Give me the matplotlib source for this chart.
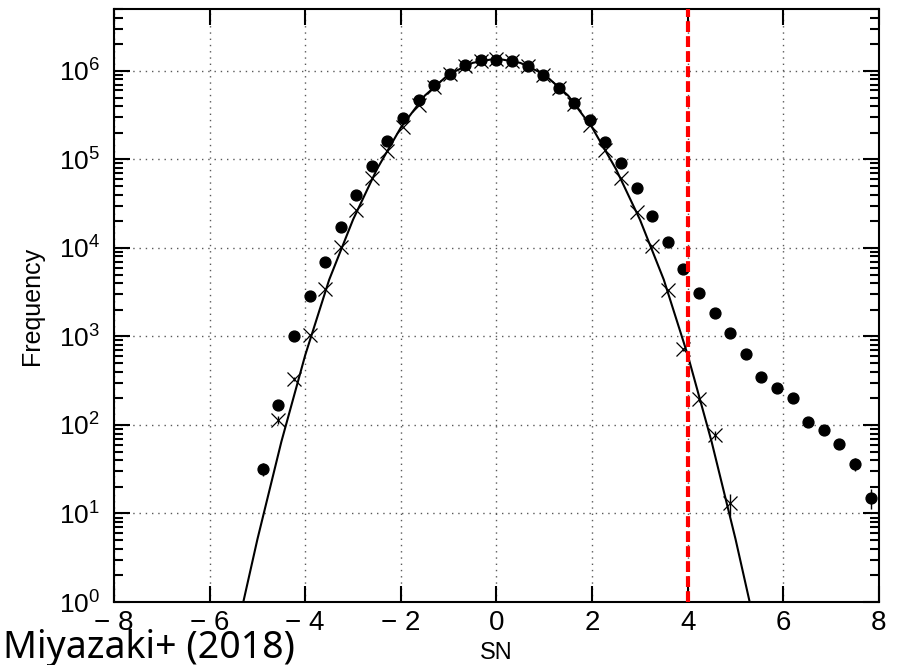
import numpy as np
import matplotlib.pyplot as plt

plt.rcParams["font.family"] = ["Liberation Sans", "DejaVu Sans"]
plt.rcParams["mathtext.fontset"] = "custom"
plt.rcParams["mathtext.rm"] = "Liberation Sans"
plt.rcParams["mathtext.it"] = "Liberation Sans:italic"
plt.rcParams["mathtext.bf"] = "Liberation Sans:bold"

# pixel histogram of the SN map (filled circles)
obs_sn = [-4.89, -4.57, -4.24, -3.91, -3.59, -3.26, -2.93, -2.61, -2.28, -1.96,
          -1.63, -1.30, -0.98, -0.65, -0.33, 0.00, 0.33, 0.65, 0.98, 1.30,
          1.63, 1.96, 2.28, 2.61, 2.93, 3.26, 3.59, 3.91, 4.24, 4.57,
          4.89, 5.22, 5.54, 5.87, 6.20, 6.52, 6.85, 7.17, 7.50, 7.83]
obs_counts = [32, 168, 1000, 2870, 7000, 17400, 39600, 84700, 162000, 290000,
              470000, 690000, 925000, 1150000, 1310000, 1340000, 1290000, 1120000, 890000, 645000,
              437000, 275000, 159000, 91000, 47000, 22900, 11600, 5840, 3120, 1860,
              1100, 628, 352, 259, 203, 107, 87, 61, 36, 15]

# histogram of the inverted (noise) map (crosses)
noise_sn = [-4.57, -4.24, -3.91, -3.59, -3.26, -2.93, -2.61, -2.28, -1.96,
            -1.63, -1.30, -0.98, -0.65, -0.33, 0.00, 0.33, 0.65, 0.98, 1.30,
            1.63, 1.96, 2.28, 2.61, 2.93, 3.26, 3.59, 3.91, 4.24, 4.57, 4.89]
noise_counts = [114, 330, 1040, 3440, 10200, 26900, 62000, 123000, 234000,
                415000, 650000, 910000, 1130000, 1300000, 1370000, 1300000, 1130000, 900000, 640000,
                420000, 245000, 129000, 61500, 25700, 10500, 3360, 720, 195, 77, 13]

# gaussian model as log10(frequency)
model_sn = [-6.0, -5.5, -5.0, -4.5, -4.0, -3.5, -3.0, -2.5, -2.0, -1.5, -1.0, -0.5, 0.0,
            0.5, 1.0, 1.5, 2.0, 2.5, 3.0, 3.5, 4.0, 4.5, 5.0, 5.5, 6.0]
model_log = [-1.80, -0.49, 0.71, 1.81, 2.79, 3.64, 4.32, 4.89, 5.36, 5.72, 5.96, 6.09, 6.14,
             6.09, 5.96, 5.72, 5.36, 4.89, 4.32, 3.64, 2.79, 1.81, 0.71, -0.49, -1.80]

SN_CUT = 4.0

XTICKS = [-8, -6, -4, -2, 0, 2, 4, 6, 8]
XTICK_LABELS = ["\u2212 8", "\u2212 6", "\u2212 4", "\u2212 2", "0", "2", "4", "6", "8"]
YTICKS = [1e0, 1e1, 1e2, 1e3, 1e4, 1e5, 1e6]
YTICK_LABELS = [r"$10^{%d}$" % i for i in range(7)]


fig = plt.figure(figsize=(8.97, 6.65), dpi=100)
ax = fig.add_axes([0.1271, 0.0947, 0.8528, 0.8918])

ax.set_yscale("log")

ax.grid(True, which="major", linestyle=(0, (1, 3.5)), color="0.35", linewidth=1.0)
ax.set_axisbelow(True)

ax.plot(model_sn, 10 ** np.array(model_log), color="k", lw=1.5, zorder=3)

ax.errorbar(obs_sn, obs_counts, yerr=np.sqrt(obs_counts), fmt="o", color="k",
            ms=7.8, elinewidth=1.0, capsize=0, zorder=4)
ax.errorbar(noise_sn, noise_counts, yerr=np.sqrt(noise_counts), fmt="x", color="k",
            ms=10, mew=0.9, elinewidth=1.0, capsize=0, zorder=5)

ax.axvline(SN_CUT, color="red", lw=3, linestyle=(0, (2.6, 1.0)), zorder=6)

ax.set_xlim(-8, 8)
ax.set_ylim(1, 5.0e6)
ax.set_xticks(XTICKS)
ax.set_xticklabels(XTICK_LABELS)
ax.set_yticks(YTICKS)
ax.set_yticklabels(YTICK_LABELS)

ax.tick_params(which="both", direction="in", top=True, right=True, width=1.5)
ax.tick_params(which="major", length=11.5)
ax.tick_params(which="minor", length=6.5)
ax.tick_params(axis="x", labelsize=20, pad=6)
ax.tick_params(axis="y", labelsize=19, pad=10)
for sp in ax.spines.values():
    sp.set_linewidth(1.5)

fig.text(32 / 897, 1 - 306 / 665, "Frequency", rotation=90, ha="center", va="center", fontsize=18)
fig.text(496.5 / 897, 1 - 653 / 665, "SN", ha="center", va="center", fontsize=17)
fig.text(0.003, 0.0105, "Miyazaki+ (2018)", fontsize=27, family="Noto Sans", va="baseline")

fig.savefig("out.png", dpi=100)
